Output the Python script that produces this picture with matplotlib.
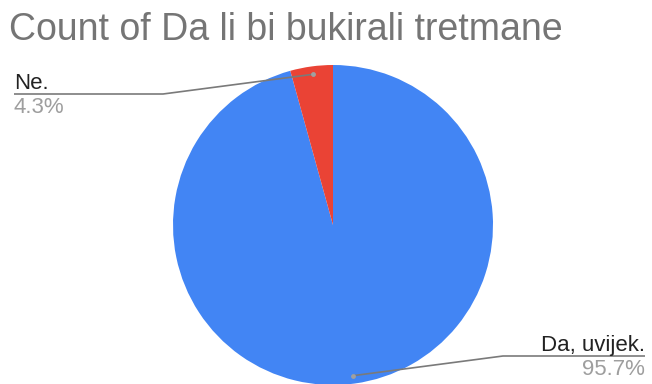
import numpy as np
import matplotlib.pyplot as plt

labels = ['Da, uvijek.', 'Ne.']
shares = [95.7, 4.3]
colors = ['#4285f4', '#ea4335']

W, H = 652, 384
fig = plt.figure(figsize=(W / 100, H / 100), dpi=100)
ax = fig.add_axes([0, 0, 1, 1])

cx, cy, R = 333, 159, 160
wedges, _ = ax.pie(shares, colors=colors, startangle=90, counterclock=False,
                   center=(cx, cy), radius=R, frame=True,
                   wedgeprops=dict(linewidth=0))
ax.set_xlim(0, W)
ax.set_ylim(0, H)
ax.set_aspect('equal')
ax.axis('off')

fig.text(9 / W, 1 - 40 / H, 'Count of Da li bi bukirali tretmane', fontsize=27,
         color='#757575', family='Liberation Sans', va='baseline', ha='left')

# leader lines: dot in wedge, slanted segment to elbow, horizontal run under the label
leaders = {
    'Ne.': dict(elbow=(163, H - 94), end=14, ha='left'),
    'Da, uvijek.': dict(elbow=(503, H - 356), end=645, ha='right'),
}
for w, lab, val in zip(wedges, labels, shares):
    mid = np.deg2rad((w.theta1 + w.theta2) / 2)
    px, py = cx + 0.95 * R * np.cos(mid), cy + 0.95 * R * np.sin(mid)
    opt = leaders[lab]
    ex, ey = opt['elbow']
    ax.plot([px, ex, opt['end']], [py, ey, ey], color='#7a7a7a', lw=1.2, solid_capstyle='butt')
    ax.plot(px, py, 'o', ms=3.5, color='#a0a0a0', mec='none')
    ax.text(opt['end'], ey + 5, lab, ha=opt['ha'], va='baseline', fontsize=16,
            color='#222222', family='Liberation Sans')
    ax.text(opt['end'], ey - 3, f'{val:.1f}%', ha=opt['ha'], va='top', fontsize=16,
            color='#9e9e9e', family='Liberation Sans')

fig.savefig('out.png', dpi=100)
